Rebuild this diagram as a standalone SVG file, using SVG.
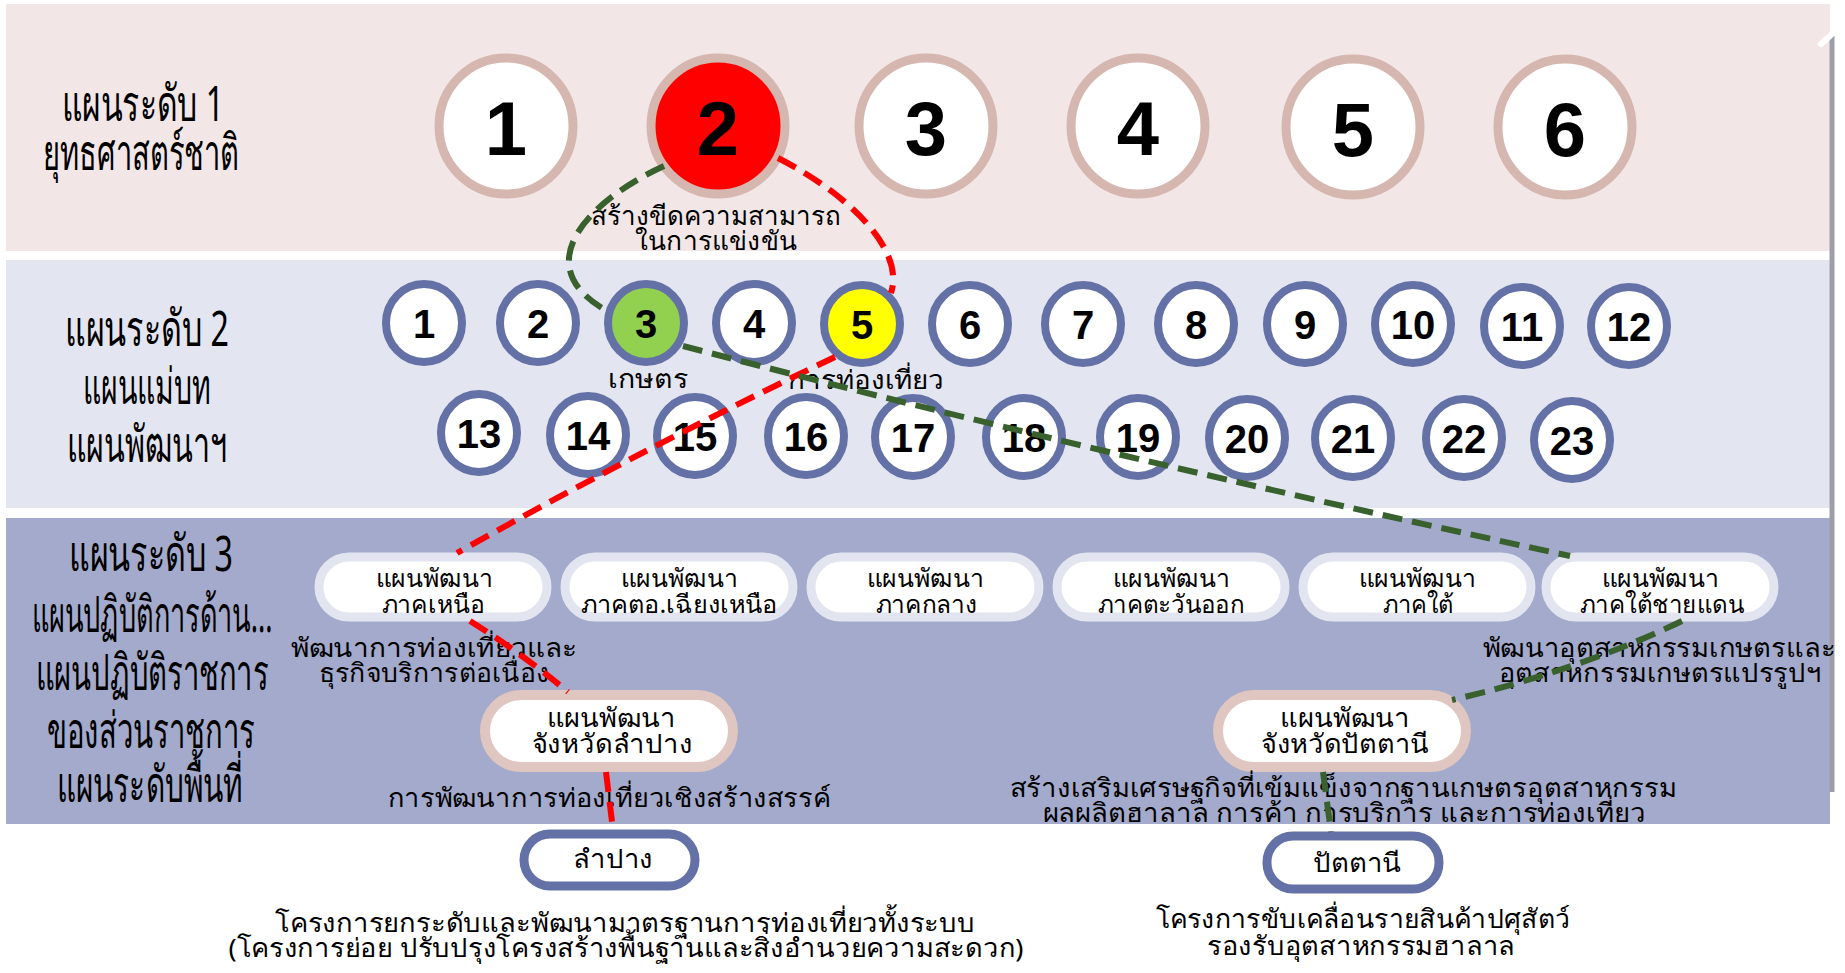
<svg xmlns="http://www.w3.org/2000/svg" width="1845" height="973" viewBox="0 0 1845 973">
<style>
.hdr{font-family:"Noto Sans","DejaVu Sans",sans-serif;font-size:50px;fill:#000;text-anchor:middle}
.th{font-family:"Noto Sans","DejaVu Sans",sans-serif;font-size:26px;fill:#000;text-anchor:middle}
.thp{font-family:"Noto Sans","DejaVu Sans",sans-serif;font-size:25px;fill:#000;text-anchor:middle}
.n1{font-family:"Liberation Sans",Arial,sans-serif;font-weight:bold;font-size:76px;fill:#000;text-anchor:middle;dominant-baseline:central}
.n2{font-family:"Liberation Sans",Arial,sans-serif;font-weight:bold;font-size:40px;fill:#000;text-anchor:middle;dominant-baseline:central}
.c1{fill:#fff;stroke:#d6b7b0;stroke-width:9}
.c2{fill:#fff;stroke:#6471a6;stroke-width:8}
.p3{fill:#fff;stroke:#e2e5f0;stroke-width:9}
.pp{fill:#fff;stroke:#dfc6c0;stroke-width:10}
.pb{fill:#fff;stroke:#6471a6;stroke-width:9}
.red{fill:none;stroke:#ff0000;stroke-width:6;stroke-dasharray:20 10}
.grn{fill:none;stroke:#38612e;stroke-width:6;stroke-dasharray:20 10}
</style>
<rect x="0" y="0" width="1845" height="973" fill="#fff"/>
<g id="bands">
<rect x="6" y="4" width="1824" height="247" fill="#f2e7e6"/>
<rect x="6" y="260" width="1824" height="248" fill="#e3e6f0"/>
<rect x="6" y="518" width="1824" height="306" fill="#a3aacb"/>
<line x1="1832" y1="36" x2="1832" y2="792" stroke="#9d9da8" stroke-width="5"/>
<line x1="1821" y1="44" x2="1843" y2="24" stroke="#fff" stroke-width="6" stroke-linecap="round"/>
<circle cx="1843" cy="793" r="8" fill="#fff"/>
</g>
<g id="level-labels">
<text class="hdr" x="143" y="121" textLength="162" lengthAdjust="spacingAndGlyphs">แผนระดับ 1</text>
<text class="hdr" x="141" y="170" textLength="196" lengthAdjust="spacingAndGlyphs">ยุทธศาสตร์ชาติ</text>
<text class="hdr" x="147" y="346" textLength="164" lengthAdjust="spacingAndGlyphs">แผนระดับ 2</text>
<text class="hdr" x="147" y="404" textLength="128" lengthAdjust="spacingAndGlyphs">แผนแม่บท</text>
<text class="hdr" x="147" y="462" textLength="160" lengthAdjust="spacingAndGlyphs">แผนพัฒนาฯ</text>
<text class="hdr" x="151" y="571" textLength="164" lengthAdjust="spacingAndGlyphs">แผนระดับ 3</text>
<text class="hdr" x="152" y="632" textLength="241" lengthAdjust="spacingAndGlyphs">แผนปฏิบัติการด้าน...</text>
<text class="hdr" x="152" y="690" textLength="233" lengthAdjust="spacingAndGlyphs">แผนปฏิบัติราชการ</text>
<text class="hdr" x="151" y="748" textLength="208" lengthAdjust="spacingAndGlyphs">ของส่วนราชการ</text>
<text class="hdr" x="150" y="802" textLength="186" lengthAdjust="spacingAndGlyphs">แผนระดับพื้นที่</text>
</g>
<g id="L1-1"><ellipse class="c1" cx="506" cy="126" rx="67" ry="68"/><text class="n1" x="506" y="128">1</text></g>
<g id="L1-2"><ellipse class="c1" cx="718" cy="126" rx="67" ry="68" style="fill:#ff0000"/><text class="n1" x="718" y="128">2</text>
<text class="th" x="716" y="225" textLength="250" lengthAdjust="spacingAndGlyphs">สร้างขีดความสามารถ</text>
<text class="th" x="716" y="250" textLength="162" lengthAdjust="spacingAndGlyphs">ในการแข่งขัน</text></g>
<g id="L1-3"><ellipse class="c1" cx="926" cy="126" rx="67" ry="68"/><text class="n1" x="926" y="128">3</text></g>
<g id="L1-4"><ellipse class="c1" cx="1138" cy="126" rx="67" ry="68"/><text class="n1" x="1138" y="128">4</text></g>
<g id="L1-5"><ellipse class="c1" cx="1353" cy="127" rx="67" ry="68"/><text class="n1" x="1353" y="129">5</text></g>
<g id="L1-6"><ellipse class="c1" cx="1565" cy="127" rx="67" ry="68"/><text class="n1" x="1565" y="129">6</text></g>

<g id="L2-1"><ellipse class="c2" cx="424" cy="323" rx="38" ry="39"/><text class="n2" x="424" y="324">1</text></g>
<g id="L2-2"><ellipse class="c2" cx="538" cy="323" rx="38" ry="39"/><text class="n2" x="538" y="324">2</text></g>
<g id="L2-3"><ellipse class="c2" cx="646" cy="323" rx="38" ry="39" style="fill:#92d050"/><text class="n2" x="646" y="324">3</text>
<text class="th" x="648" y="388" textLength="80" lengthAdjust="spacingAndGlyphs">เกษตร</text></g>
<g id="L2-4"><ellipse class="c2" cx="754" cy="323" rx="38" ry="39"/><text class="n2" x="754" y="324">4</text></g>
<g id="L2-5"><ellipse class="c2" cx="862" cy="324" rx="38" ry="39" style="fill:#ffff00"/><text class="n2" x="862" y="325">5</text>
<text class="th" x="866" y="389" textLength="157" lengthAdjust="spacingAndGlyphs">การท่องเที่ยว</text></g>
<g id="L2-6"><ellipse class="c2" cx="970" cy="324" rx="38" ry="39"/><text class="n2" x="970" y="325">6</text></g>
<g id="L2-7"><ellipse class="c2" cx="1083" cy="324" rx="38" ry="39"/><text class="n2" x="1083" y="325">7</text></g>
<g id="L2-8"><ellipse class="c2" cx="1196" cy="324" rx="38" ry="39"/><text class="n2" x="1196" y="325">8</text></g>
<g id="L2-9"><ellipse class="c2" cx="1305" cy="324" rx="38" ry="39"/><text class="n2" x="1305" y="325">9</text></g>
<g id="L2-10"><ellipse class="c2" cx="1413" cy="324" rx="38" ry="39"/><text class="n2" x="1413" y="325">10</text></g>
<g id="L2-11"><ellipse class="c2" cx="1522" cy="326" rx="38" ry="39"/><text class="n2" x="1522" y="327">11</text></g>
<g id="L2-12"><ellipse class="c2" cx="1629" cy="326" rx="38" ry="39"/><text class="n2" x="1629" y="327">12</text></g>
<g id="L2-13"><ellipse class="c2" cx="479" cy="433" rx="38" ry="39"/><text class="n2" x="479" y="434">13</text></g>
<g id="L2-14"><ellipse class="c2" cx="588" cy="435" rx="38" ry="39"/><text class="n2" x="588" y="436">14</text></g>
<g id="L2-15"><ellipse class="c2" cx="695" cy="436" rx="38" ry="39"/><text class="n2" x="695" y="437">15</text></g>
<g id="L2-16"><ellipse class="c2" cx="806" cy="436" rx="38" ry="39"/><text class="n2" x="806" y="437">16</text></g>
<g id="L2-17"><ellipse class="c2" cx="913" cy="437" rx="38" ry="39"/><text class="n2" x="913" y="438">17</text></g>
<g id="L2-18"><ellipse class="c2" cx="1024" cy="437" rx="38" ry="39"/><text class="n2" x="1024" y="438">18</text></g>
<g id="L2-19"><ellipse class="c2" cx="1138" cy="437" rx="38" ry="39"/><text class="n2" x="1138" y="438">19</text></g>
<g id="L2-20"><ellipse class="c2" cx="1247" cy="438" rx="38" ry="39"/><text class="n2" x="1247" y="439">20</text></g>
<g id="L2-21"><ellipse class="c2" cx="1353" cy="438" rx="38" ry="39"/><text class="n2" x="1353" y="439">21</text></g>
<g id="L2-22"><ellipse class="c2" cx="1464" cy="438" rx="38" ry="39"/><text class="n2" x="1464" y="439">22</text></g>
<g id="L2-23"><ellipse class="c2" cx="1572" cy="440" rx="38" ry="39"/><text class="n2" x="1572" y="441">23</text></g>

<g id="L3-north"><rect class="p3" x="319" y="557" width="228" height="60" rx="30"/>
<text class="thp" x="434" y="587" textLength="117" lengthAdjust="spacingAndGlyphs">แผนพัฒนา</text>
<text class="thp" x="433" y="613" textLength="103" lengthAdjust="spacingAndGlyphs">ภาคเหนือ</text>
<text class="th" x="434" y="657" textLength="287" lengthAdjust="spacingAndGlyphs">พัฒนาการท่องเที่ยวและ</text>
<text class="th" x="434" y="682" textLength="231" lengthAdjust="spacingAndGlyphs">ธุรกิจบริการต่อเนื่อง</text></g>
<g id="L3-northeast"><rect class="p3" x="565" y="557" width="228" height="60" rx="30"/>
<text class="thp" x="679" y="587" textLength="117" lengthAdjust="spacingAndGlyphs">แผนพัฒนา</text>
<text class="thp" x="679" y="613" textLength="197" lengthAdjust="spacingAndGlyphs">ภาคตอ.เฉียงเหนือ</text></g>
<g id="L3-central"><rect class="p3" x="811" y="557" width="228" height="60" rx="30"/>
<text class="thp" x="925" y="587" textLength="117" lengthAdjust="spacingAndGlyphs">แผนพัฒนา</text>
<text class="thp" x="926" y="613" textLength="101" lengthAdjust="spacingAndGlyphs">ภาคกลาง</text></g>
<g id="L3-east"><rect class="p3" x="1057" y="557" width="228" height="60" rx="30"/>
<text class="thp" x="1171" y="587" textLength="117" lengthAdjust="spacingAndGlyphs">แผนพัฒนา</text>
<text class="thp" x="1171" y="613" textLength="147" lengthAdjust="spacingAndGlyphs">ภาคตะวันออก</text></g>
<g id="L3-south"><rect class="p3" x="1303" y="557" width="228" height="60" rx="30"/>
<text class="thp" x="1417" y="587" textLength="117" lengthAdjust="spacingAndGlyphs">แผนพัฒนา</text>
<text class="thp" x="1418" y="613" textLength="71" lengthAdjust="spacingAndGlyphs">ภาคใต้</text></g>
<g id="L3-southborder"><rect class="p3" x="1546" y="557" width="228" height="60" rx="30"/>
<text class="thp" x="1660" y="587" textLength="117" lengthAdjust="spacingAndGlyphs">แผนพัฒนา</text>
<text class="thp" x="1662" y="613" textLength="164" lengthAdjust="spacingAndGlyphs">ภาคใต้ชายแดน</text>
<text class="th" x="1659" y="657" textLength="353" lengthAdjust="spacingAndGlyphs">พัฒนาอุตสาหกรรมเกษตรและ</text>
<text class="th" x="1660" y="682" textLength="323" lengthAdjust="spacingAndGlyphs">อุตสาหกรรมเกษตรแปรรูปฯ</text></g>

<g id="P-lampang"><rect class="pp" x="485" y="695" width="248" height="72" rx="36"/>
<text class="th" x="611" y="727" textLength="129" lengthAdjust="spacingAndGlyphs">แผนพัฒนา</text>
<text class="th" x="612" y="753" textLength="161" lengthAdjust="spacingAndGlyphs">จังหวัดลำปาง</text>
<text class="th" x="609" y="807" textLength="443" lengthAdjust="spacingAndGlyphs">การพัฒนาการท่องเที่ยวเชิงสร้างสรรค์</text></g>
<g id="P-pattani"><rect class="pp" x="1218" y="695" width="248" height="72" rx="36"/>
<text class="th" x="1345" y="727" textLength="130" lengthAdjust="spacingAndGlyphs">แผนพัฒนา</text>
<text class="th" x="1345" y="753" textLength="168" lengthAdjust="spacingAndGlyphs">จังหวัดปัตตานี</text>
<text class="th" x="1343" y="797" textLength="667" lengthAdjust="spacingAndGlyphs">สร้างเสริมเศรษฐกิจที่เข้มแข็งจากฐานเกษตรอุตสาหกรรม</text>
<text class="th" x="1344" y="822" textLength="603" lengthAdjust="spacingAndGlyphs">ผลผลิตฮาลาล การค้า การบริการ และการท่องเที่ยว</text></g>

<g id="B-lampang"><rect class="pb" x="524" y="834" width="171" height="52" rx="26"/>
<text class="th" x="613" y="868" textLength="80" lengthAdjust="spacingAndGlyphs">ลำปาง</text>
<text class="th" x="625" y="932" textLength="700" lengthAdjust="spacingAndGlyphs">โครงการยกระดับและพัฒนามาตรฐานการท่องเที่ยวทั้งระบบ</text>
<text class="th" x="626" y="957" textLength="795" lengthAdjust="spacingAndGlyphs">(โครงการย่อย ปรับปรุงโครงสร้างพื้นฐานและสิ่งอำนวยความสะดวก)</text></g>
<g id="B-pattani"><rect class="pb" x="1267" y="836" width="172" height="53" rx="26"/>
<text class="th" x="1357" y="872" textLength="89" lengthAdjust="spacingAndGlyphs">ปัตตานี</text>
<text class="th" x="1363" y="928" textLength="415" lengthAdjust="spacingAndGlyphs">โครงการขับเคลื่อนรายสินค้าปศุสัตว์</text>
<text class="th" x="1361" y="955" textLength="308" lengthAdjust="spacingAndGlyphs">รองรับอุตสาหกรรมฮาลาล</text></g>

<g id="connectors">
<path class="red" d="M 778 158 C 850 195, 905 250, 891 293"/>
<path class="red" d="M 835 357 Q 650 445 457 553"/>
<path class="red" d="M 470 621 Q 520 652 568 692"/>
<path class="red" d="M 606 772 L 613 830"/>
<path class="grn" d="M 664 166 C 590 200, 525 265, 607 311"/>
<path class="grn" d="M 683 346 Q 1100 455 1570 556"/>
<path class="grn" d="M 1682 621 Q 1580 670 1452 700"/>
<path class="grn" d="M 1323 772 L 1331 832"/>
</g>
</svg>
